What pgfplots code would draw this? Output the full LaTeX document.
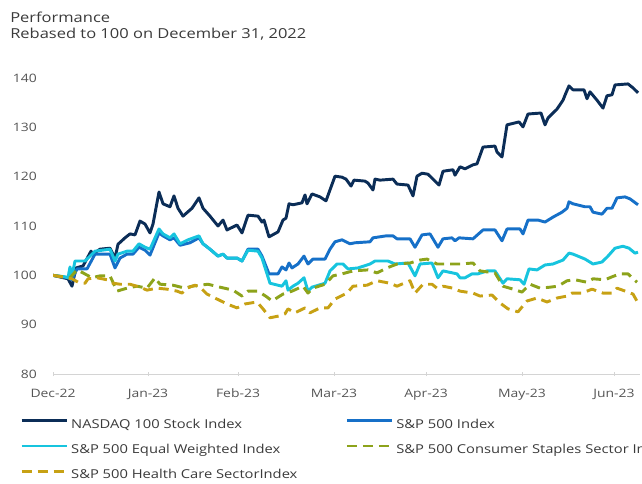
\documentclass[border=0pt]{standalone}
\usepackage{pgfplots}
\pgfplotsset{compat=1.18}
\usepackage{fontspec}
\setmainfont{Open Sans}[FakeStretch=1.2]
\definecolor{cnavy}{HTML}{0B2D57}
\definecolor{cblue}{HTML}{1670C8}
\definecolor{ccyan}{HTML}{17C4DE}
\definecolor{colive}{HTML}{8DA31B}
\definecolor{cgold}{HTML}{C7A114}
\definecolor{titlegray}{HTML}{3A3A3A}
\definecolor{tickgray}{HTML}{555555}
\definecolor{axgray}{HTML}{D4D4D4}
\begin{document}
\begin{tikzpicture}
\path[use as bounding box] (0,0) rectangle (481.5pt,362.25pt);
\node[anchor=base west, inner sep=0pt, font=\fontsize{10.3}{12}\selectfont, text=titlegray] at (7.5pt,345.5pt) {Performance};
\node[anchor=base west, inner sep=0pt, font=\fontsize{10.3}{12}\selectfont, text=titlegray] at (7.5pt,333.6pt) {Rebased to 100 on December 31, 2022};
\begin{axis}[
  at={(39.75pt,81.75pt)}, anchor=south west,
  scale only axis, width=440.25pt, height=222pt,
  xmin=53, xmax=640, ymin=80, ymax=140,
  axis x line*=bottom, axis y line*=left,
  y axis line style={draw=none},
  x axis line style={draw=axgray, line width=0.75pt},
  ytick={80,90,100,110,120,130,140},
  ytick style={draw=none},
  xtick={53,148,238,334,426,522,614},
  xticklabels={Dec-22,Jan-23,Feb-23,Mar-23,Apr-23,May-23,Jun-23},
  xtick style={draw=axgray, line width=0.75pt},
  tick align=center, major tick length=3pt,
  ticklabel style={font=\fontsize{8.7}{10}\selectfont, text=tickgray},
  /pgf/number format/assume math mode=true,
  yticklabel style={inner sep=0pt, xshift=-10.5pt},
  xticklabel style={inner sep=0pt, yshift=-9.5pt},
  every axis plot/.append style={line width=2.2pt, line join=round, mark=none},
  legend columns=2,
  legend cell align=left,
  legend image code/.code={\draw[#1] (0pt,3pt) -- (34pt,3pt);},
  legend style={at={(-0.0562,-0.1500)}, anchor=north west, draw=none, fill=none,
    inner sep=0pt, column sep=2pt, row sep=10pt,
    font=\fontsize{9.2}{11}\selectfont, text=titlegray,
    nodes={inner sep=0pt, text height=7pt, text depth=2pt},
    /tikz/every even column/.append style={column sep=36pt}},
]
\addplot[cnavy] table {
53 100
68 99.3
72 97.8
76 101.5
83 101.9
91 104.9
93 104.3
100 105.3
110 105.5
115 103.5
118 106.3
125 107.6
130 108.4
135 108.2
140 111.0
145 110.4
150 108.6
153 110.4
159 116.9
163 114.5
170 113.9
174 116.1
178 113.6
183 112.0
192 113.6
199 115.7
203 113.6
210 112.0
218 110.0
223 111.2
227 109.2
237 110.2
242 108.6
248 112.2
258 112.0
262 110.8
264 111.2
269 107.8
278 108.8
283 111.2
286 111.6
289 114.5
293 114.3
302 114.7
305 116.3
307 114.5
312 116.5
320 115.9
326 115.1
335 120.1
342 119.9
346 119.5
351 118.1
354 119.3
365 119.1
368 118.7
373 117.3
375 119.5
380 119.3
393 119.5
397 118.5
408 118.3
413 116.1
417 120.1
422 120.7
428 120.5
433 119.5
439 118.3
443 121.1
453 121.4
455 120.3
460 122.0
465 121.6
473 122.4
477 122.6
483 126.0
495 126.2
497 125.0
502 124.0
507 130.5
519 131.1
523 130.1
528 132.7
541 132.9
545 130.5
548 131.9
557 133.7
563 135.5
566 137.0
569 138.4
573 137.6
584 137.6
587 135.8
590 137.2
597 135.5
603 133.9
607 136.4
612 136.6
615 138.6
628 138.8
633 138.0
638 137.0
};
\addlegendentry{NASDAQ 100 Stock Index}
\addplot[cblue] table {
53 100
68 99.5
72 99.1
77 101.3
87 101.3
95 104.3
110 104.3
115 101.5
120 103.5
127 104.3
133 104.3
139 105.7
145 105.1
150 104.1
159 108.6
163 108.0
170 107.2
174 107.6
180 106.1
190 106.6
199 107.6
203 106.4
210 105.3
218 103.9
223 104.3
227 103.5
237 103.5
242 102.9
248 105.3
258 105.3
262 103.9
269 100.3
278 100.3
282 101.7
286 101.1
289 102.5
292 101.5
298 102.3
304 103.9
308 102.3
313 103.3
325 103.3
330 105.3
335 106.8
342 107.2
350 106.4
355 106.6
370 106.8
373 107.6
386 108.0
393 108.0
397 107.4
410 107.4
415 105.7
422 108.2
430 108.4
438 105.7
443 107.4
452 107.6
455 107.0
459 107.6
473 107.4
483 109.2
495 109.2
502 107.0
507 109.4
520 109.4
523 108.4
528 111.2
538 111.2
545 110.8
553 111.8
562 112.8
567 113.6
569 114.9
573 114.5
585 113.9
590 113.9
593 112.8
602 112.4
607 113.6
612 113.6
617 115.7
625 115.9
630 115.5
638 114.3
};
\addlegendentry{S\&P 500 Index}
\addplot[ccyan] table {
53 100
65 99.7
68 99.5
70 101.7
72 99.9
75 102.9
85 102.9
95 104.9
110 105.3
115 102.9
118 104.3
127 104.9
133 104.9
139 106.4
145 105.7
150 105.3
159 109.4
163 108.4
170 107.6
174 108.4
180 106.4
188 107.2
199 108.0
203 106.4
210 105.3
218 103.9
223 104.3
227 103.5
237 103.5
242 102.9
248 105.1
258 104.9
262 103.5
270 98.4
282 97.8
286 98.9
288 97.0
293 97.8
298 98.4
304 99.5
308 96.8
312 97.6
325 98.4
330 100.9
337 102.3
343 102.3
348 101.3
358 101.5
370 102.3
375 102.9
388 102.9
395 102.3
408 102.5
415 99.9
420 102.3
432 102.5
438 99.5
443 100.9
457 100.3
460 99.5
465 99.5
472 100.3
478 100.3
487 100.9
495 100.9
503 98.4
507 99.3
520 99.1
524 98.2
529 101.3
537 101.1
545 102.1
553 102.3
563 103.1
569 104.5
573 104.3
585 103.3
593 102.3
602 102.7
608 103.9
615 105.5
623 105.9
629 105.5
635 104.5
638 104.7
};
\addlegendentry{S\&P 500 Equal Weighted Index}
\addplot[colive, dash pattern=on 7.5pt off 4.5pt] table {
53 100
70 99.5
77 101.1
83 100.5
92 99.5
100 99.9
110 99.9
117 96.8
127 97.4
137 97.8
147 97.4
155 99.5
160 98.2
173 98.0
185 97.4
192 97.8
200 98.0
208 98.2
220 97.6
233 97.0
242 95.8
248 96.8
258 96.8
267 95.6
272 94.8
283 96.2
292 96.8
303 97.8
308 96.4
313 97.4
325 98.2
333 99.9
342 100.3
353 100.9
368 101.1
377 100.5
387 101.5
397 102.3
410 102.5
420 103.1
427 103.3
437 102.3
447 102.3
460 102.3
473 102.5
480 100.9
487 100.7
495 100.5
503 97.8
513 97.2
522 96.6
530 98.2
540 97.4
550 97.6
558 97.8
567 98.9
575 99.1
587 98.6
593 99.3
605 99.1
612 99.7
620 100.3
628 100.3
637 98.6
};
\addlegendentry{S\&P 500 Consumer Staples Sector Index}
\addplot[cgold, dash pattern=on 7.5pt off 4.5pt] table {
53 100
72 99.3
80 98.4
85 98.4
88 99.3
97 99.5
107 99.1
113 98.4
120 98.2
130 98.2
140 97.6
147 97.0
157 97.4
167 97.2
177 96.8
182 96.4
187 97.4
195 98.0
200 97.6
207 96.2
215 95.4
227 94.2
237 93.4
245 94.2
257 94.6
263 93.2
270 91.4
280 91.8
285 92.2
288 93.2
295 92.4
305 93.4
310 92.4
320 93.4
328 93.4
335 95.2
347 96.4
353 97.8
367 98.0
377 98.9
390 98.4
397 97.8
410 98.9
415 96.4
423 98.2
432 98.2
437 97.4
443 97.8
453 97.4
460 96.8
473 96.4
480 95.8
492 96.0
500 94.4
508 93.2
518 92.6
527 94.8
537 95.4
547 94.6
557 95.4
567 95.8
572 96.4
582 96.4
592 97.2
603 96.4
612 96.4
617 97.4
628 96.6
633 96.2
638 94.4
};
\addlegendentry{S\&P 500 Health Care SectorIndex}
\end{axis}
\end{tikzpicture}
\end{document}
